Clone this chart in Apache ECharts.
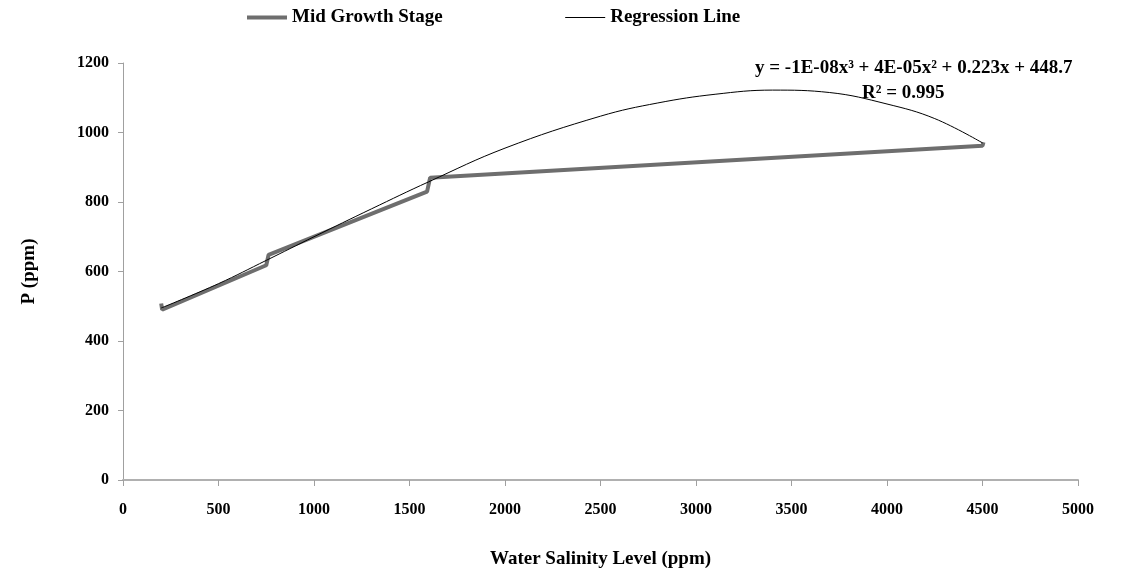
<!DOCTYPE html>
<html>
<head>
<meta charset="utf-8">
<script src="https://cdn.jsdelivr.net/npm/echarts@6/dist/echarts.min.js"></script>
<style>html,body{margin:0;padding:0;background:#fff}#c{width:1136px;height:576px}</style>
</head>
<body>
<div id="c"></div>
<script>
const midX = [200, 205, 750, 762, 1592, 1608, 4500, 4505];
const midY = [508, 490, 618, 648, 830, 870, 962, 972];
const regX = [200, 500, 750, 1000, 1300, 1600, 2000, 2500, 2800, 3100, 3400, 3700, 4000, 4250, 4500];
const regY = [495, 565, 632, 700, 780, 858, 955, 1047, 1085, 1110, 1122, 1115, 1082, 1040, 970];
const yTicks = [0, 200, 400, 600, 800, 1000, 1200];
const xTicks = [0, 500, 1000, 1500, 2000, 2500, 3000, 3500, 4000, 4500, 5000];
const eqText = 'y = -1E-08x³ + 4E-05x² + 0.223x + 448.7';
const r2Text = 'R² = 0.995';

const font = '"Liberation Serif", "Times New Roman", serif';
const chart = echarts.init(document.getElementById('c'));
chart.setOption({
  animation: false,
  backgroundColor: '#fff',
  textStyle: { fontFamily: font },
  legend: {
    left: 240, top: 3, itemWidth: 40, itemHeight: 12, itemGap: 122,
    itemStyle: { opacity: 0 },
    textStyle: { fontFamily: font, fontWeight: 'bold', fontSize: 19, color: '#000' },
    data: [
      { name: 'Mid Growth Stage', lineStyle: { width: 4, color: '#6e6e6e' } },
      { name: 'Regression Line', lineStyle: { width: 1.2, color: '#000' } }
    ]
  },
  grid: { left: 123, right: 58, top: 63, bottom: 96 },
  xAxis: {
    type: 'value', min: xTicks[0], max: xTicks[xTicks.length - 1], interval: 500,
    name: 'Water Salinity Level (ppm)', nameLocation: 'middle', nameGap: 70,
    nameTextStyle: { fontFamily: font, fontWeight: 'bold', fontSize: 19, color: '#000' },
    axisLine: { lineStyle: { color: '#b0b0b0', width: 2 } },
    axisTick: { show: true, length: 6, lineStyle: { color: '#a0a0a0', width: 1 } },
    axisLabel: { margin: 22, fontFamily: font, fontWeight: 'bold', fontSize: 16, color: '#000', formatter: v => String(v) },
    splitLine: { show: false }
  },
  yAxis: {
    type: 'value', min: yTicks[0], max: yTicks[yTicks.length - 1], interval: 200,
    name: 'P (ppm)', nameLocation: 'middle', nameGap: 84,
    nameTextStyle: { fontFamily: font, fontWeight: 'bold', fontSize: 19, color: '#000' },
    axisLine: { show: true, lineStyle: { color: '#a0a0a0', width: 1 } },
    axisTick: { show: true, length: 5, lineStyle: { color: '#a0a0a0' } },
    axisLabel: { margin: 14, fontFamily: font, fontWeight: 'bold', fontSize: 16, color: '#000', formatter: v => String(v) },
    splitLine: { show: false }
  },
  series: [
    {
      name: 'Mid Growth Stage', type: 'line', symbol: 'none',
      data: midX.map((x, i) => [x, midY[i]]),
      lineStyle: { color: '#6e6e6e', width: 4 }, itemStyle: { color: '#6e6e6e' }, z: 2
    },
    {
      name: 'Regression Line', type: 'line', symbol: 'none', smooth: 0.4,
      data: regX.map((x, i) => [x, regY[i]]),
      lineStyle: { color: '#000', width: 1 }, itemStyle: { color: '#000' }, z: 3
    }
  ],
  graphic: [
    { type: 'text', left: 755, top: 59, style: { text: eqText, font: 'bold 19px ' + font, fill: '#000' } },
    { type: 'text', left: 862, top: 84, style: { text: r2Text, font: 'bold 19px ' + font, fill: '#000' } }
  ]
});
</script>
</body>
</html>
